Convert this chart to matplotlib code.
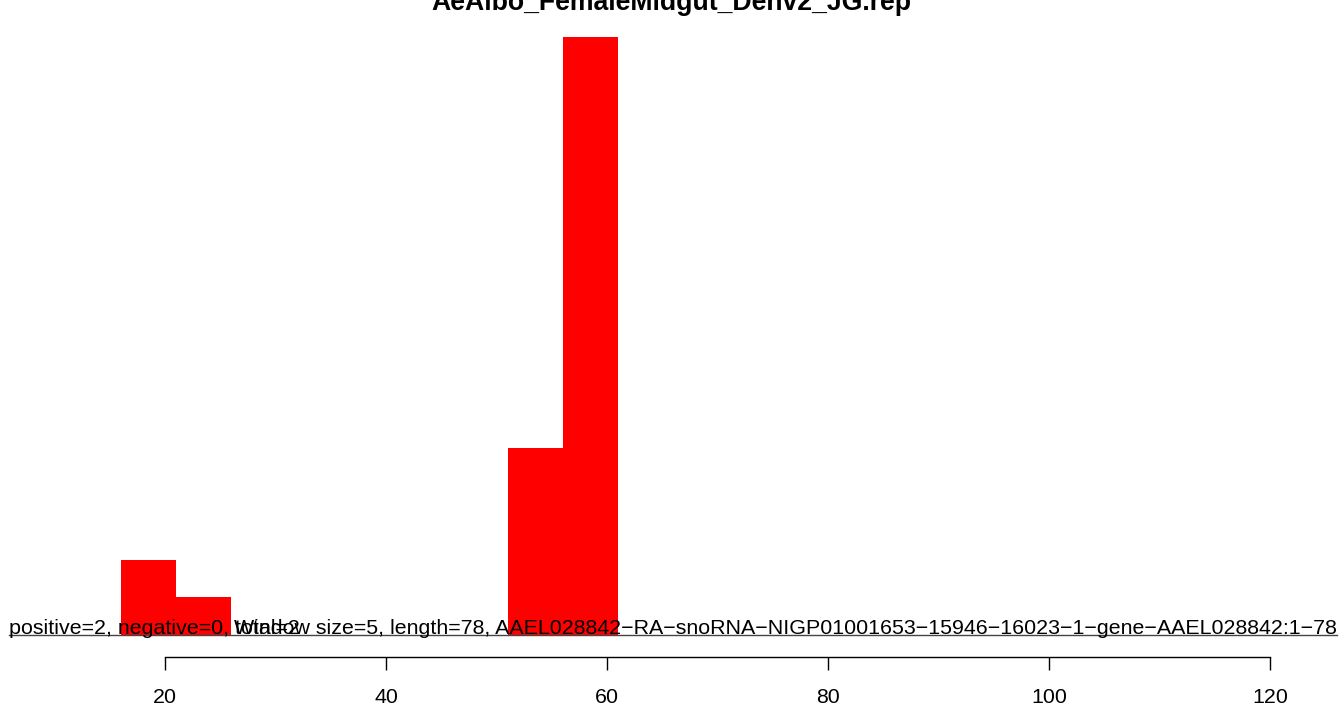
import matplotlib
matplotlib.use("Agg")
import matplotlib.pyplot as plt

plt.rcParams['font.family'] = ['Liberation Sans', 'DejaVu Sans']

# window starts and read counts
starts = [16, 21, 51, 56]
counts = [2, 1, 5, 16]
win = 5
ticks = [20, 40, 60, 80, 100, 120]

title = "AeAlbo_FemaleMidgut_Denv2_JG.rep"
left_note = "positive=2, negative=0, total=2"
right_note = ("Window size=5, length=78, "
              "AAEL028842\u2212RA\u2212snoRNA\u2212NIGP01001653\u221215946\u221216023\u22121\u2212gene\u2212AAEL028842:1\u221278")

W, H = 1342, 706
fig = plt.figure(figsize=(W / 100, H / 100), dpi=100)

# axes placed in pixel terms: x 9..1337, y baseline 634.5 -> top 37
x0, x1 = 9, 1337
yb, yt = 634.5, 37
ax = fig.add_axes([x0 / W, 1 - yb / H, (x1 - x0) / W, (yb - yt) / H])

ppu = (1270 - 165) / 100.0  # pixels per unit
ax.set_xlim(20 + (x0 - 165) / ppu, 20 + (x1 - 165) / ppu)
ax.set_ylim(0, max(counts))

ax.bar(starts, counts, width=win, align='edge', color='#ff0000', linewidth=0, zorder=1)

ax.axhline(0, color='#444444', lw=1.0, zorder=2, clip_on=False)
ax.text(0, 0, left_note, transform=ax.transAxes, ha='left', va='baseline', fontsize=15.4, zorder=3)
ax.text(1, 0, right_note, transform=ax.transAxes, ha='right', va='baseline', fontsize=15.4, zorder=3)

for s in ['top', 'right', 'left']:
    ax.spines[s].set_visible(False)
ax.spines['bottom'].set_position(('outward', (657 - yb) * 0.72))
ax.spines['bottom'].set_bounds(20, 120)
ax.spines['bottom'].set_linewidth(1.0)
ax.set_xticks(ticks)
ax.set_xticklabels([str(t) for t in ticks], fontsize=15.4)
ax.tick_params(axis='x', direction='out', length=9.5, width=1.0, pad=12.5)
ax.set_yticks([])

fig.text(671 / W, 1 - 10 / H, title, ha='center', va='baseline', fontsize=19.2, fontweight='bold')

fig.savefig("out.png", dpi=100)
